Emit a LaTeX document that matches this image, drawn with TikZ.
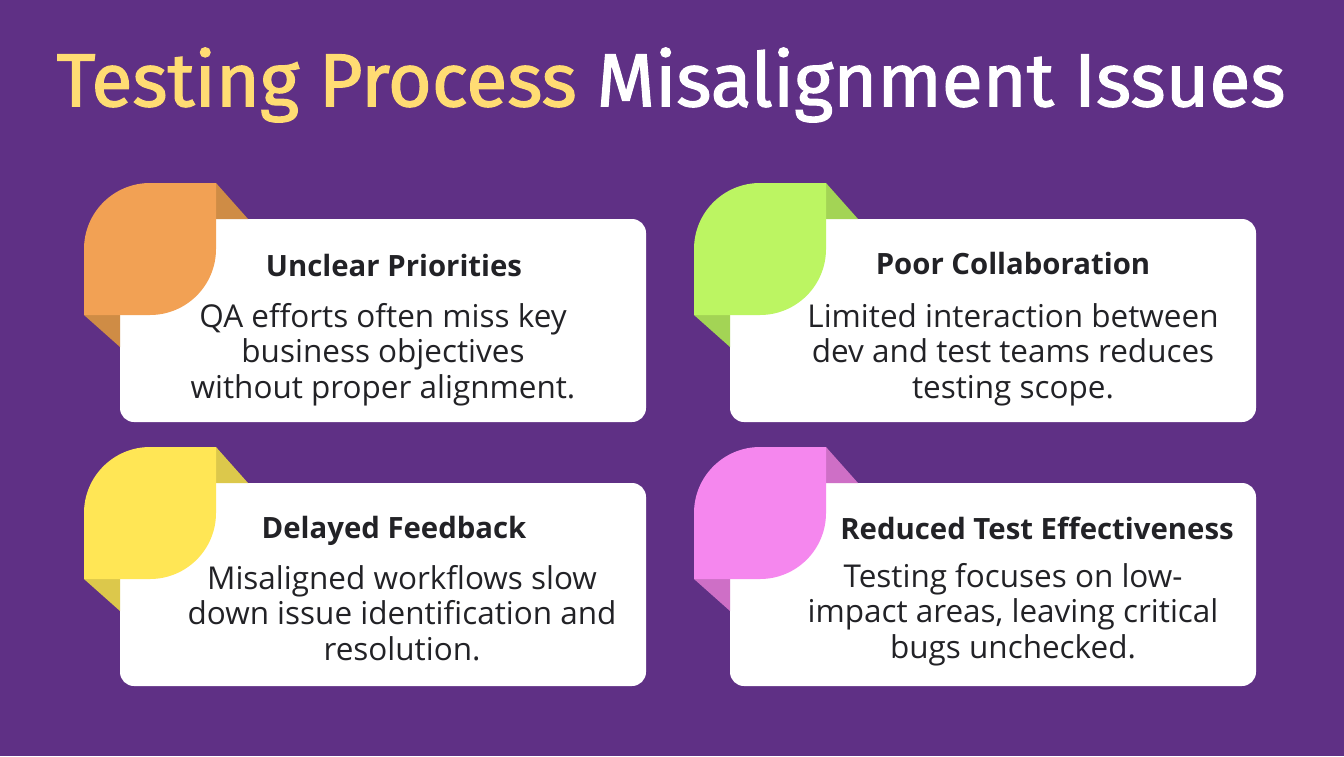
\documentclass[tikz,border=0pt]{standalone}
\usepackage{fontspec}
\setmainfont{Open Sans}
\newfontfamily\titlefont[FakeBold=1.6]{Fira Sans}
\definecolor{bgpurple}{HTML}{5F3085}
\definecolor{titleyellow}{HTML}{FFDC73}
\definecolor{inkdark}{HTML}{222226}
\definecolor{orangeleaf}{HTML}{F2A154}
\definecolor{orangefold}{HTML}{CF8C45}
\definecolor{greenleaf}{HTML}{BCF562}
\definecolor{greenfold}{HTML}{A3D455}
\definecolor{yellowleaf}{HTML}{FFE655}
\definecolor{yellowfold}{HTML}{DCC84B}
\definecolor{pinkleaf}{HTML}{F587EE}
\definecolor{pinkfold}{HTML}{CE6FC6}
% one leaf with its two folds: top left corner, leaf colour, fold colour
\newcommand{\leafmark}[3]{
  \fill[#3] (#1)++(132,0) -- ++(32,36) -- ++(-32,0) -- cycle;
  \fill[#3] (#1)++(0,132) -- ++(36,0) -- ++(0,32) -- cycle;
  \fill[#2] (#1)++(0,66) arc[start angle=180,end angle=270,radius=66] -- ++(66,0) -- ++(0,66)
    arc[start angle=0,end angle=90,radius=66] -- ++(-66,0) -- cycle;
}
\begin{document}
\begin{tikzpicture}[x=0.75pt,y=-0.75pt]
    \tikzstyle{every node}=[text=inkdark]
    \tikzstyle{card}=[fill=white,rounded corners=10.5pt,minimum width=394.5pt,minimum height=152.25pt,inner sep=0pt]
    \tikzstyle{head}=[font=\fontsize{22}{26}\selectfont\bfseries]
    \tikzstyle{body}=[font=\fontsize{23.6}{26.6}\selectfont,align=center]
    \useasboundingbox (0,0) rectangle (1344,756);
    \fill[bgpurple] (0,0) rectangle (1344,756);
    \node[font=\titlefont\fontsize{56.4}{62}\selectfont,text=white] (title) at (671,85)
        {\textcolor{titleyellow}{Testing Process} Misalignment Issues};

    \node[card] (card1) at (383,320.5) {};
    \node[card] (card2) at (993,320.5) {};
    \node[card] (card3) at (383,584.5) {};
    \node[card] (card4) at (993,584.5) {};

    \leafmark{84,183}{orangeleaf}{orangefold}
    \leafmark{694,183}{greenleaf}{greenfold}
    \leafmark{84,447}{yellowleaf}{yellowfold}
    \leafmark{694,447}{pinkleaf}{pinkfold}

    \node[head] (head1) at (394,265) {Unclear Priorities};
    \node[body] (body1) at (383,354.5) {QA efforts often miss key\\business objectives\\without proper alignment.};
    \node[head] (head2) at (1013,263) {Poor Collaboration};
    \node[body] (body2) at (1013,354.5) {Limited interaction between\\dev and test teams reduces\\testing scope.};
    \node[head] (head3) at (394,531) {Delayed Feedback};
    \node[body] (body3) at (402,613) {Misaligned workflows slow\\down issue identification and\\resolution.};
    \node[head] (head4) at (1037,528) {Reduced Test Effectiveness};
    \node[body] (body4) at (1013,614.5) {Testing focuses on low-\\impact areas, leaving critical\\bugs unchecked.};
\end{tikzpicture}
\end{document}
